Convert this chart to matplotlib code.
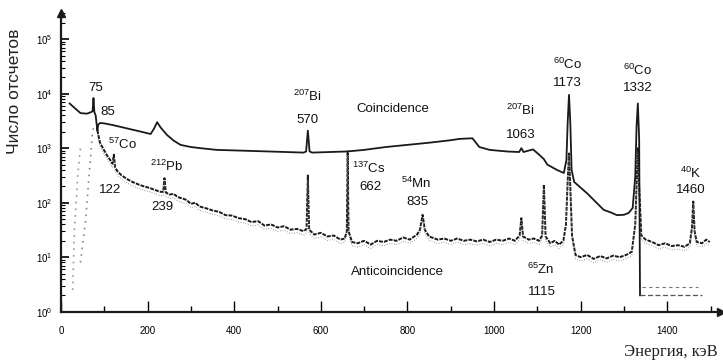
import matplotlib
matplotlib.use("Agg")
import matplotlib.pyplot as plt
import numpy as np
from matplotlib.ticker import MultipleLocator, LogLocator, FixedLocator

plt.rcParams['font.family'] = ['Liberation Sans', 'DejaVu Sans']
plt.rcParams['mathtext.fontset'] = 'custom'
plt.rcParams['mathtext.rm'] = 'Liberation Sans'
plt.rcParams['mathtext.default'] = 'regular'

# ---------------- data (energy keV, counts) ----------------
coin_E = [20, 30, 45, 60, 70, 73, 75, 77, 80, 84, 86, 90, 100, 120, 153, 180, 207, 215,
          222, 230, 245, 260, 276, 300, 322, 360, 420, 500, 560, 566, 570, 574, 580, 620,
          660, 700, 750, 800, 850, 900, 920, 950, 966, 990, 1030, 1058, 1063, 1068, 1090,
          1104, 1115, 1123, 1145, 1161, 1167, 1170, 1173, 1176, 1179, 1185, 1215, 1253,
          1270, 1284, 1300, 1311, 1320, 1326, 1329, 1332, 1335, 1337]
coin_N = [6600, 5600, 4400, 4300, 4600, 4800, 8300, 4600, 4000, 2100, 2700, 2900, 2850,
          2650, 2300, 2050, 1820, 2300, 3000, 2400, 1740, 1380, 1150, 1050, 1000, 930, 900,
          860, 830, 870, 2100, 870, 830, 850, 870, 930, 1050, 1150, 1260, 1400, 1480, 1520,
          1050, 930, 870, 850, 1000, 850, 950, 760, 630, 500, 400, 350, 600, 3000, 9500,
          3000, 400, 240, 148, 74, 66, 59, 60, 65, 80, 300, 2500, 6600, 1500, 2]

coin_tail_E = [1337, 1480]
coin_tail_N = [2.0, 2.0]
anti_tail_E = [1342, 1470]
anti_tail_N = [2.8, 2.8]

anti_E = [84, 90, 99, 107, 114, 119, 122, 125, 130, 140, 153, 165, 180, 191, 205, 218, 230,
          236, 239, 242, 250, 260, 270, 280, 290, 300, 310, 320, 335, 350, 365, 380, 395,
          410, 425, 440, 455, 470, 485, 500, 515, 530, 545, 560, 567, 570, 573, 585, 600,
          615, 630, 645, 655, 660, 662, 664, 672, 685, 700, 715, 730, 745, 760, 775, 790,
          805, 822, 829, 835, 840, 850, 870, 885, 900, 915, 930, 945, 960, 975, 990, 1005,
          1020, 1035, 1048, 1059, 1063, 1067, 1080, 1092, 1104, 1111, 1115, 1119, 1130,
          1140, 1150, 1160, 1166, 1170, 1173, 1176, 1180, 1188, 1200, 1215, 1230, 1245,
          1260, 1275, 1290, 1305, 1318, 1326, 1330, 1332, 1335, 1340, 1350, 1365, 1380,
          1395, 1410, 1425, 1440, 1452, 1457, 1460, 1463, 1468, 1480, 1490, 1498]
anti_N = [2140, 1260, 930, 720, 600, 520, 760, 440, 380, 316, 270, 240, 214, 200, 186, 170,
          158, 158, 282, 155, 141, 145, 126, 120, 112, 95, 100, 85, 79, 72, 68, 59, 58, 52,
          50, 44, 46, 38, 40, 35, 37, 32, 33, 30, 33, 316, 32, 26, 28, 24, 25, 21, 22, 30,
          870, 30, 19, 18, 20, 17, 20, 19, 21, 20, 23, 21, 26, 32, 60, 32, 24, 21, 22, 20,
          22, 20, 21, 19.5, 21, 19, 21, 20, 22, 20, 25, 52, 24, 21, 22, 20, 25, 214, 24, 18,
          20, 17, 20, 40, 250, 800, 200, 25, 11, 10, 11, 9.3, 10.5, 9.5, 10.7, 10, 11, 12.6,
          40, 316, 1000, 200, 25, 21, 19, 16.6, 18, 16, 16.6, 15.5, 18, 35, 105, 30, 19, 18,
          21, 19]

lowA_E = [27, 31, 35, 38, 42, 45]
lowA_N = [2.5, 32, 100, 263, 630, 1000]
lowB_E = [45, 51, 57, 64, 69, 73, 78]
lowB_N = [8, 20, 48, 263, 794, 2138, 2500]

labels = ["75", "85", "$^{57}$Co", "122", "$^{212}$Pb", "239", "$^{207}$Bi", "570",
          "$^{137}$Cs", "662", "$^{54}$Mn", "835", "$^{207}$Bi", "1063", "$^{60}$Co", "1173",
          "$^{60}$Co", "1332", "$^{40}$K", "1460", "$^{65}$Zn", "1115"]
label_E = [80, 107, 141, 114, 245, 234, 569, 569, 711, 715, 819, 823, 1061, 1061, 1169,
           1169, 1331, 1331, 1454, 1454, 1107, 1111]
label_N = [12600, 4700, 1150, 170, 457, 85, 8900, 3300, 427, 195, 229, 105, 5000, 1740,
           33900, 15500, 26900, 12600, 347, 170, 5.9, 2.3]

series_names = ["Coincidence", "Anticoincidence"]
series_label_E = [766, 777]
series_label_N = [5250, 5.4]

x_ticks = [0, 200, 400, 600, 800, 1000, 1200, 1400]

# ---------------- figure ----------------
W, H = 723, 363
fig = plt.figure(figsize=(W / 100, H / 100), dpi=100)
ax = fig.add_axes([61 / W, (H - 311.7) / H, (721 - 61) / W, (311.7 - 13) / H])
ax.set_yscale('log')
ax.set_xlim(0, 1524)
ax.set_ylim(1, 10 ** 5.48)

ink = '#1a1a1a'
ax.plot(lowA_E, lowA_N, ls=(0, (1, 3)), color='#999999', lw=1.2)
ax.plot(lowB_E, lowB_N, ls=(0, (1, 3)), color='#888888', lw=1.2)
ax.plot(anti_E, anti_N, color=ink, lw=1.4, ls=(0, (2, 0.6)))
ax.plot(anti_E, np.array(anti_N) * 0.85, color='#777777', lw=0.6, ls=(0, (1, 2)))
ax.plot(coin_E, coin_N, color=ink, lw=1.3)
ax.plot(coin_tail_E, coin_tail_N, color='#555555', lw=0.9, ls=(0, (4, 2)))
ax.plot(anti_tail_E, anti_tail_N, color='#777777', lw=0.8, ls=(0, (3, 3)))

for t, e, n in zip(labels, label_E, label_N):
    ax.text(e, n, t, ha='center', va='center', fontsize=9.5, color='#111111')
for t, e, n in zip(series_names, series_label_E, series_label_N):
    ax.text(e, n, t, ha='center', va='center', fontsize=9.5, color='#111111')

# axes styling
for s in ['top', 'right']:
    ax.spines[s].set_visible(False)
for s in ['left', 'bottom']:
    ax.spines[s].set_linewidth(1.6)
    ax.spines[s].set_color(ink)

ax.xaxis.set_major_locator(FixedLocator(x_ticks))
ax.xaxis.set_minor_locator(MultipleLocator(100))
ax.yaxis.set_major_locator(LogLocator(base=10, numticks=10))
ax.yaxis.set_minor_locator(LogLocator(base=10, subs=np.arange(2, 10), numticks=20))
ax.tick_params(axis='x', which='major', direction='in', length=8, width=1, labelsize=7, pad=10)
ax.tick_params(axis='x', which='minor', direction='in', length=4, width=1)
ax.tick_params(axis='y', which='major', direction='in', length=6, width=1.2, labelsize=7, pad=6)
ax.tick_params(axis='y', which='minor', direction='in', length=3, width=0.8)
ax.set_xticklabels([str(v) for v in x_ticks])

# arrows at axis ends
ax.plot([0], [1], transform=ax.transAxes, marker='^', color=ink, ms=6, clip_on=False)
ax.plot([1], [0], transform=ax.transAxes, marker='>', color=ink, ms=6, clip_on=False)

fig.text(15 / W, 1 - 91 / H, "Число отсчетов", rotation=90, ha='center', va='center',
         fontsize=12.5, color='#222222')
fig.text(718 / W, 1 - 352 / H, "Энергия, кэВ", ha='right', va='center',
         fontsize=12, family=['Liberation Serif', 'DejaVu Serif'], color='#222222')

fig.savefig("out.png", dpi=100)
